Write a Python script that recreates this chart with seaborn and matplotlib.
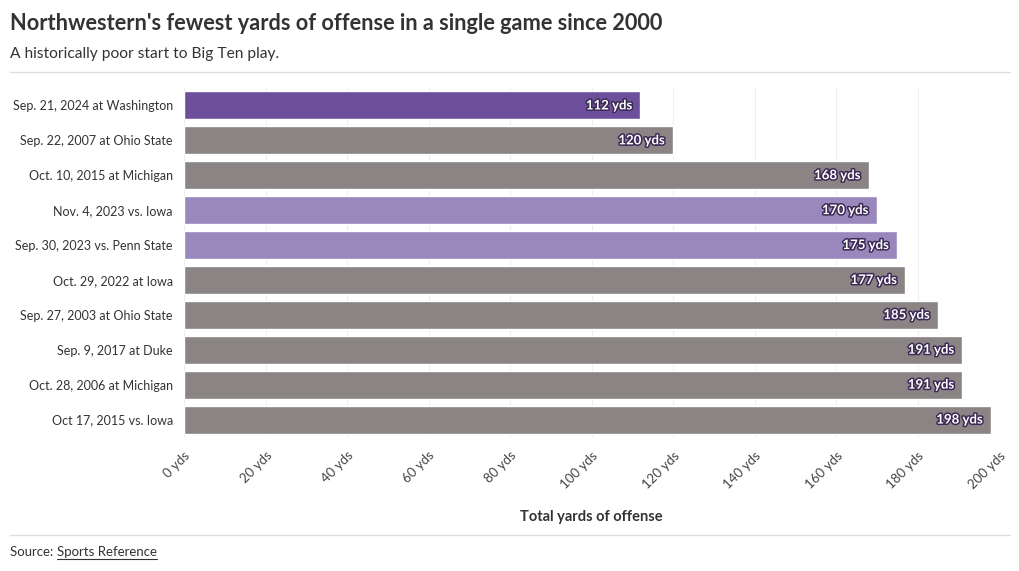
import matplotlib
matplotlib.use("Agg")
import matplotlib.pyplot as plt
import matplotlib.patheffects as pe
import seaborn as sns
import pandas as pd

games = ["Sep. 21, 2024 at Washington", "Sep. 22, 2007 at Ohio State", "Oct. 10, 2015 at Michigan",
         "Nov. 4, 2023 vs. Iowa", "Sep. 30, 2023 vs. Penn State", "Oct. 29, 2022 at Iowa",
         "Sep. 27, 2003 at Ohio State", "Sep. 9, 2017 at Duke", "Oct. 28, 2006 at Michigan",
         "Oct 17, 2015 vs. Iowa"]
yards = [112, 120, 168, 170, 175, 177, 185, 191, 191, 198]
groups = ["current", "other", "other", "recent", "recent", "other", "other", "other", "other", "other"]
xticks = [0, 20, 40, 60, 80, 100, 120, 140, 160, 180, 200]

palette = {"current": "#6e4f9c", "recent": "#9a88bd", "other": "#8a8584"}

sns.set_theme(style="white")
plt.rcParams['font.family'] = ['Lato', 'DejaVu Sans']

df = pd.DataFrame({"game": games, "yards": yards, "group": groups})

fig = plt.figure(figsize=(10.2, 5.71), dpi=100)
ax = fig.add_axes([184/1020, 1 - 437/571, (999-184)/1020, (437-88)/571])

sns.barplot(data=df, x="yards", y="game", hue="group", palette=palette, dodge=False,
            legend=False, ax=ax, width=0.8, saturation=1, zorder=3)

ax.set_xlim(0, 200)
ax.set_xticks(xticks)
ax.set_xticklabels([f"{t} yds" for t in xticks], rotation=45, ha="right", va="top",
                   rotation_mode="anchor", fontsize=9.5, color="#444444")
ax.tick_params(axis="y", labelsize=9.0, labelcolor="#333333", length=5, color="#dddddd", pad=3)
ax.tick_params(axis="x", length=5, color="#dddddd", pad=4)
ax.grid(axis="x", color="#eeeeee", linewidth=0.8, zorder=0)
ax.set_axisbelow(True)
for s in ["top", "right", "bottom", "left"]:
    ax.spines[s].set_visible(False)
ax.set_ylabel("")
ax.set_xlabel("Total yards of offense", fontsize=10.5, fontweight="bold", color="#333333", labelpad=14)

for i, v in enumerate(yards):
    ax.text(v - 2, i, f"{v} yds", ha="right", va="center", color="white", fontsize=9.5,
            fontweight="bold", zorder=5,
            path_effects=[pe.withStroke(linewidth=2.2, foreground="#3a2a55")])

fig.text(10/1020, 1 - 23/571, "Northwestern's fewest yards of offense in a single game since 2000",
         fontsize=15.7, fontweight="bold", color="#333333", va="center")
fig.text(10/1020, 1 - 54/571, "A historically poor start to Big Ten play.",
         fontsize=11.2, color="#333333", va="center")
fig.add_artist(plt.Line2D([10/1020, 1010/1020], [1 - 72/571, 1 - 72/571], color="#dddddd", lw=1))
fig.add_artist(plt.Line2D([10/1020, 1010/1020], [1 - 535/571, 1 - 535/571], color="#dddddd", lw=1))
t1 = fig.text(10/1020, 1 - 552/571, "Source: ", fontsize=9.5, color="#333333", va="center")
fig.canvas.draw()
bb = t1.get_window_extent()
t2 = fig.text(bb.x1 / 1020, 1 - 552/571, "Sports Reference", fontsize=9.5, color="#333333",
              va="center")
fig.canvas.draw()
bb2 = t2.get_window_extent()
fig.add_artist(plt.Line2D([bb2.x0/1020, bb2.x1/1020], [(bb2.y0 - 1)/571, (bb2.y0 - 1)/571],
                          color="#333333", lw=0.8))

fig.savefig("out.png", dpi=100)
